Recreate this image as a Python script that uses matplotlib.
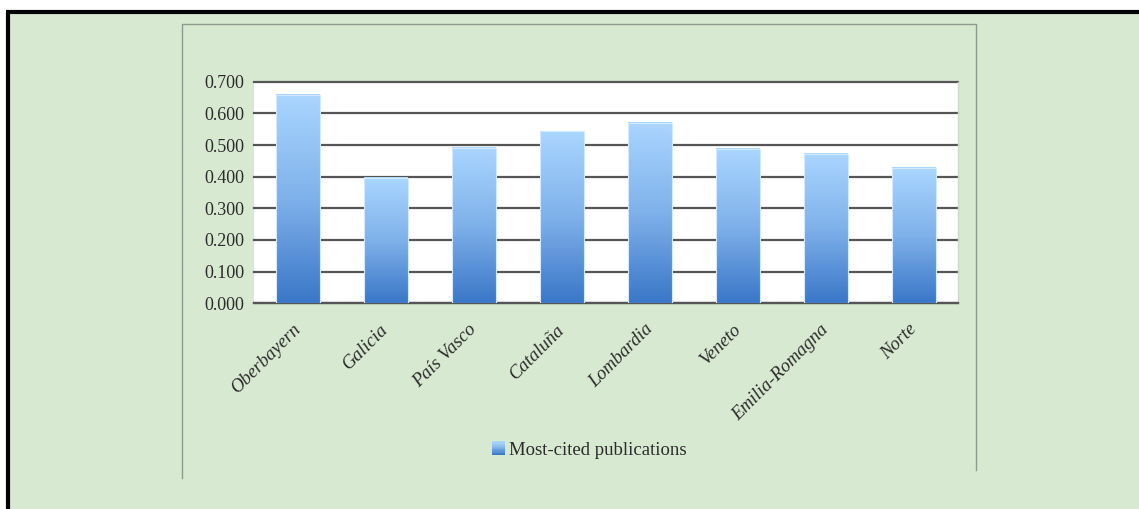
import numpy as np
import matplotlib.pyplot as plt
from matplotlib.colors import LinearSegmentedColormap
from matplotlib.patches import Rectangle
from matplotlib.lines import Line2D
from matplotlib.legend_handler import HandlerBase

regions = ["Oberbayern", "Galicia", "País Vasco", "Cataluña",
           "Lombardia", "Veneto", "Emilia-Romagna", "Norte"]
most_cited = [0.659, 0.395, 0.490, 0.543, 0.569, 0.488, 0.472, 0.428]
y_ticks = [0.0, 0.1, 0.2, 0.3, 0.4, 0.5, 0.6, 0.7]
series_name = "Most-cited publications"

W, H = 1139, 509
plt.rcParams['font.family'] = ['Liberation Serif', 'DejaVu Serif']

bar_top = "#aad6ff"
bar_bottom = "#3a77c8"
blue_grad = LinearSegmentedColormap.from_list("bluegrad", [bar_bottom, "#7fb1ea", bar_top])

fig = plt.figure(figsize=(W / 100, H / 100), dpi=100)
fig.patch.set_facecolor("white")


def fx(px):
    return px / W


def fy(py):
    return 1 - py / H


# green page background with black frame on top and left
fig.add_artist(Rectangle((fx(8), 0), 1 - fx(8), fy(12), transform=fig.transFigure,
                         facecolor="#d8e9d2", edgecolor="none", zorder=0))
fig.add_artist(Line2D([fx(7.5), fx(7.5)], [0, fy(11.5)], transform=fig.transFigure,
                      color="black", lw=3, zorder=1, solid_capstyle="butt"))
fig.add_artist(Line2D([fx(6), 1], [fy(11.5), fy(11.5)], transform=fig.transFigure,
                      color="black", lw=3, zorder=1, solid_capstyle="butt"))

# thin grey chart-area outline (open at the bottom)
box = "#8e9a8c"
fig.add_artist(Line2D([fx(182), fx(182), fx(976), fx(976)],
                      [fy(478), fy(24), fy(24), fy(470)],
                      transform=fig.transFigure, color=box, lw=1, zorder=1))

ax = fig.add_axes([fx(254), fy(303.3), fx(958) - fx(254), (303.3 - 81.7) / H])
ax.set_facecolor("white")

x = np.arange(len(regions))
width = 0.5
grad = np.linspace(0, 1, 256).reshape(-1, 1)
for xi, v in zip(x, most_cited):
    ax.imshow(grad, extent=(xi - width / 2, xi + width / 2, 0, v), origin="lower",
              aspect="auto", cmap=blue_grad, zorder=3, interpolation="bilinear")
ax.bar(x, most_cited, width=width, facecolor="none", edgecolor="#d2e9ff", lw=0.8, zorder=4)

ax.set_xlim(-0.5, len(regions) - 0.5)
ax.set_ylim(0, 0.7)
ax.set_yticks(y_ticks)
ax.set_yticklabels([f"{t:.3f}" for t in y_ticks])
ax.yaxis.grid(True, color="#555555", lw=1.6, zorder=1)
ax.set_axisbelow(True)
for gl in ax.get_ygridlines():
    gl.set_clip_on(False)

for s in ("left", "top"):
    ax.spines[s].set_visible(False)
ax.spines["right"].set_color("#cfd8cc")
ax.spines["right"].set_linewidth(1)
ax.spines["bottom"].set_color("#555555")
ax.spines["bottom"].set_linewidth(1.6)

ax.tick_params(axis="y", length=0, pad=7, labelsize=13, labelcolor="#2b2b2b")
ax.tick_params(axis="x", length=0, pad=17, labelsize=13.5, labelcolor="#2b2b2b")
ax.set_xticks(x)
ax.set_xticklabels(regions, rotation=45, ha="right", va="center",
                   rotation_mode="anchor", style="italic")


class GradientSwatch(HandlerBase):
    # legend key drawn as a stack of thin strips, light at top
    def create_artists(self, legend, orig_handle, xdescent, ydescent,
                       width, height, fontsize, trans):
        n = 12
        side = min(width, height)
        out = []
        for i in range(n):
            c = blue_grad(i / (n - 1))
            out.append(Rectangle((-xdescent, -ydescent + i * side / n), side, side / n + 0.2,
                                 facecolor=c, edgecolor="none", transform=trans))
        return out


key = Rectangle((0, 0), 1, 1)
fig.legend([key], [series_name], handler_map={Rectangle: GradientSwatch()},
           loc="center", bbox_to_anchor=(fx(589), fy(450)), frameon=False,
           fontsize=13.5, handlelength=0.75, handleheight=0.75, handletextpad=0.15,
           labelcolor="#2b2b2b")

fig.savefig("out.png", dpi=100)
